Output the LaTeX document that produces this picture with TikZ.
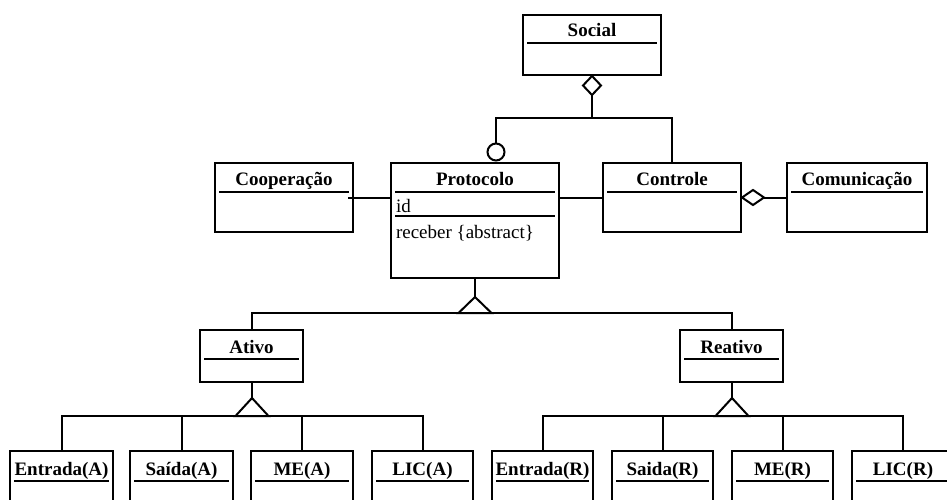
\documentclass[tikz,border=0pt]{standalone}
\usepackage{fontspec}
\setmainfont{Liberation Serif}
\begin{document}
\begin{tikzpicture}[x=1pt,y=-1pt, line width=2pt,
  cls/.style={draw, rectangle, inner sep=0pt},
  ttl/.style={anchor=base, inner sep=0pt, font=\fontsize{19}{21}\selectfont\bfseries},
  attr/.style={anchor=base west, inner sep=0pt, font=\fontsize{19}{21}\selectfont},
  conn/.style={draw},
  hollow/.style={draw, fill=white, line join=miter}
]
\useasboundingbox (0,0) rectangle (947,499);
\clip (0,0) rectangle (947,499);

% ---- class boxes: frame, title, compartment rule ----
\newcommand{\umlclass}[8]{% name, x1, y1, x2, y2, title, baseline, rule y
  \node[cls, minimum width={#4-#2}, minimum height={#5-#3}] (#1) at ({(#2+#4)/2},{(#3+#5)/2}) {};
  \node[ttl] (#1-t) at ({(#2+#4)/2},#7) {#6};
  \draw ({#2+4},#8) -- ({#4-4},#8);
}

\umlclass{social}{523}{15}{661}{75}{Social}{36}{43}
\umlclass{coop}{215}{163}{353}{232}{Cooperação}{185}{192}
\umlclass{proto}{391}{163}{559}{278}{Protocolo}{185}{192}
\umlclass{ctrl}{603}{163}{741}{232}{Controle}{185}{192}
\umlclass{comm}{787}{163}{927}{232}{Comunicação}{185}{192}
\umlclass{ativo}{200}{330}{303}{382}{Ativo}{353}{359}
\umlclass{reativo}{680}{330}{783}{382}{Reativo}{353}{359}

\umlclass{entA}{10}{451}{113}{530}{Entrada(A)}{475}{481}
\umlclass{saiA}{130}{451}{233}{530}{Saída(A)}{475}{481}
\umlclass{meA}{251}{451}{353}{530}{ME(A)}{475}{481}
\umlclass{licA}{372}{451}{473}{530}{LIC(A)}{475}{481}
\umlclass{entR}{492}{451}{593}{530}{Entrada(R)}{475}{481}
\umlclass{saiR}{612}{451}{713}{530}{Saida(R)}{475}{481}
\umlclass{meR}{732}{451}{833}{530}{ME(R)}{475}{481}
\umlclass{licR}{852}{451}{954}{530}{LIC(R)}{475}{481}

% Protocolo attributes and operations
\node[attr] (pid) at (395,212) {id};
\draw (395,216) -- (555,216);
\node[attr] (prec) at (395,238) {receber \{abstract\}};

% ---- aggregation of Social ----
\coordinate (sj) at (592,118);
\draw[hollow] (social.south) -- ++(-9,9.5) -- ++(9,9.5) -- ++(9,-9.5) -- cycle;
\draw[conn] ([yshift=-19pt]social.south) -- (sj);
\node[draw, circle, minimum size=17pt, inner sep=0pt] (circ) at (496,152) {};
\draw[conn] (circ.north) |- (sj) -| (ctrl.north);

% ---- associations ----
\draw[conn] ([xshift=-6pt]coop.east) -- (proto.west |- coop.east);
\draw[conn] (proto.east |- ctrl.west) -- (ctrl.west);
\draw[hollow] (ctrl.east) -- ++(11,-7.5) -- ++(11,7.5) -- ++(-11,7.5) -- cycle;
\draw[conn] ([xshift=22pt]ctrl.east) -- (comm.west);

% ---- generalisation: Protocolo ----
\coordinate (pg) at (475,313);
\draw[conn] (ativo.north) |- (pg) -| (reativo.north);
\draw[conn] (proto.south) -- ++(0,19);
\draw[hollow] (pg) ++(-16.5,0) -- ++(16.5,-16) -- ++(16.5,16) -- cycle;

% ---- generalisation: Ativo ----
\coordinate (ag) at (252,416);
\draw[conn] (entA.north) |- (ag) -| (licA.north);
\draw[conn] (saiA.north) -- (saiA.north |- ag);
\draw[conn] (meA.north) -- (meA.north |- ag);
\draw[conn] (ativo.south) -- ++(0,16);
\draw[hollow] (ag) ++(-16.5,0) -- ++(16.5,-18) -- ++(16.5,18) -- cycle;

% ---- generalisation: Reativo ----
\coordinate (rg) at (732,416);
\draw[conn] (entR.north) |- (rg) -| (licR.north);
\draw[conn] (saiR.north) -- (saiR.north |- rg);
\draw[conn] (meR.north) -- (meR.north |- rg);
\draw[conn] (reativo.south) -- ++(0,16);
\draw[hollow] (rg) ++(-16.5,0) -- ++(16.5,-18) -- ++(16.5,18) -- cycle;
\end{tikzpicture}
\end{document}
